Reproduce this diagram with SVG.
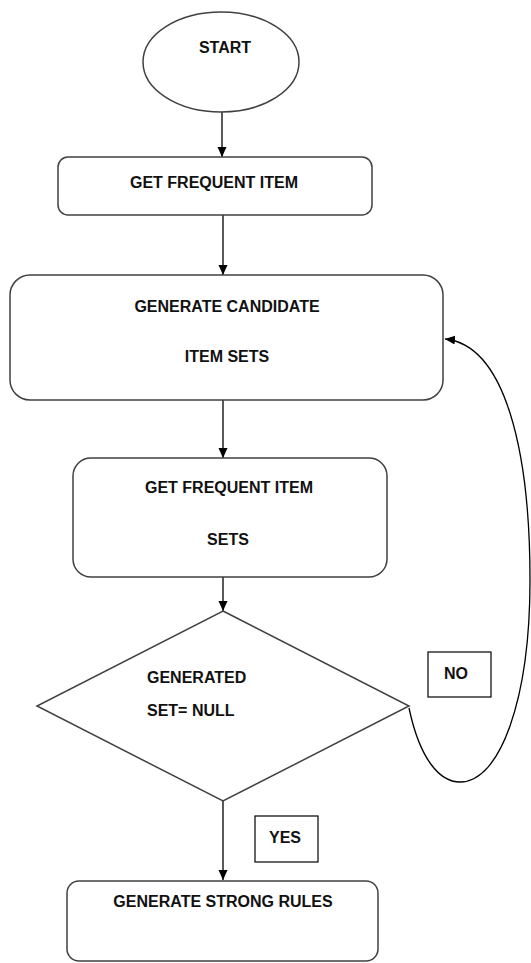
<svg xmlns="http://www.w3.org/2000/svg" width="531" height="963" viewBox="0 0 531 963">
<style>
.shape{fill:#fff;stroke:#404040;stroke-width:1.5}
.lbl{fill:#fff;stroke:#000;stroke-width:1.2}
.t{font-family:"Liberation Sans",Arial,sans-serif;font-weight:bold;font-size:16px;fill:#111;text-anchor:middle}
.conn{fill:none;stroke:#000;stroke-width:1.3}
</style>
<defs>
<marker id="ah" markerWidth="10" markerHeight="10" refX="10" refY="5" orient="auto" markerUnits="userSpaceOnUse">
<path d="M0,0.5 L10,5 L0,9.5 Z" fill="#000"/>
</marker>
</defs>
<rect width="531" height="963" fill="#fff"/>
<g id="connectors">
<line class="conn" x1="222" y1="112" x2="222" y2="157" marker-end="url(#ah)"/>
<line class="conn" x1="223" y1="215" x2="223" y2="275" marker-end="url(#ah)"/>
<line class="conn" x1="223" y1="400" x2="223" y2="458" marker-end="url(#ah)"/>
<line class="conn" x1="223" y1="577" x2="223" y2="611" marker-end="url(#ah)"/>
<line class="conn" x1="223" y1="801" x2="223" y2="880" marker-end="url(#ah)"/>
<path class="conn" d="M409,708 C420,760 440,782 460,782 C500,782 530,700 530,580 C530,450 505,345 445,339" marker-end="url(#ah)"/>
</g>
<g id="start">
<ellipse class="shape" cx="221" cy="62" rx="78" ry="50"/>
<text class="t" x="225" y="53">START</text>
</g>
<g id="get-frequent-item">
<rect class="shape" x="58" y="157" width="314" height="58" rx="10"/>
<text class="t" x="214" y="188">GET FREQUENT ITEM</text>
</g>
<g id="generate-candidate">
<rect class="shape" x="10" y="275" width="433" height="125" rx="20"/>
<text class="t" x="227" y="312">GENERATE CANDIDATE</text>
<text class="t" x="227" y="362">ITEM SETS</text>
</g>
<g id="get-frequent-item-sets">
<rect class="shape" x="73" y="458" width="314" height="119" rx="18"/>
<text class="t" x="229" y="493">GET FREQUENT ITEM</text>
<text class="t" x="228" y="545">SETS</text>
</g>
<g id="decision">
<polygon class="shape" points="223,611 409,706 223,801 37,706"/>
<text class="t" x="147" y="683" style="text-anchor:start">GENERATED</text>
<text class="t" x="147" y="716" style="text-anchor:start">SET= NULL</text>
</g>
<g id="no-label">
<rect class="lbl" x="428" y="652" width="63" height="45"/>
<text class="t" x="456" y="679">NO</text>
</g>
<g id="yes-label">
<rect class="lbl" x="255" y="816" width="63" height="46"/>
<text class="t" x="285" y="843">YES</text>
</g>
<g id="generate-strong-rules">
<rect class="shape" x="67" y="881" width="311" height="80" rx="12"/>
<text class="t" x="223" y="907">GENERATE STRONG RULES</text>
</g>
</svg>
